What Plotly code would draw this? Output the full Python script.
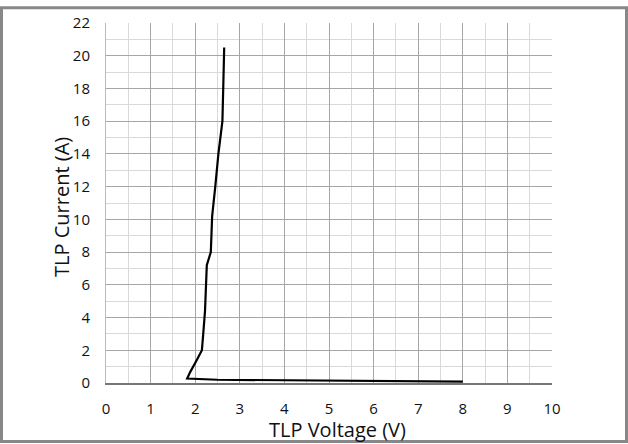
import plotly.graph_objects as go

# TLP I-V curve
voltage = [8.0, 6.0, 4.0, 2.5, 1.82, 1.89, 2.03, 2.15, 2.18, 2.22, 2.26, 2.32, 2.35,
           2.38, 2.41, 2.45, 2.52, 2.57, 2.61, 2.63, 2.65]
current = [0.08, 0.12, 0.16, 0.2, 0.27, 0.68, 1.38, 2.0, 3.0, 4.4, 7.2, 7.7, 8.0,
           10.2, 11.2, 12.0, 14.0, 15.2, 16.0, 18.2, 20.5]

x_ticks = list(range(0, 11))
y_ticks = list(range(0, 23, 2))

fig = go.Figure()
fig.add_trace(go.Scatter(x=voltage, y=current, mode="lines",
                         line=dict(color="black", width=2.2), showlegend=False))

font_family = "Open Sans, Noto Sans, sans-serif"
fig.update_layout(
    width=628, height=444,
    margin=dict(l=106, r=76, t=17, b=61),
    paper_bgcolor="white", plot_bgcolor="white",
    font=dict(family=font_family, color="#111", size=15),
    xaxis=dict(range=[0, 10], tickvals=x_ticks, ticks="", showgrid=True,
               gridcolor="#a6a6a6", gridwidth=1, zeroline=False,
               showline=True, linecolor="#777", linewidth=1.5, mirror=False,
               minor=dict(dtick=0.5, showgrid=True, gridcolor="#d9d9d9", gridwidth=1),
               tickfont=dict(size=15), ticklabelstandoff=11),
    yaxis=dict(range=[0, 22], tickvals=y_ticks, ticks="", showgrid=True,
               gridcolor="#a6a6a6", gridwidth=1, zeroline=False,
               showline=True, linecolor="#bbb", linewidth=1,
               minor=dict(dtick=1, showgrid=True, gridcolor="#d9d9d9", gridwidth=1),
               tickfont=dict(size=15), ticklabelstandoff=12),
    annotations=[
        dict(text="TLP Voltage (V)", xref="paper", yref="paper",
             x=(337.5 - 106) / 446, y=(383 - 430) / 366,
             xanchor="center", yanchor="middle", showarrow=False,
             font=dict(size=20, color="#111")),
        dict(text="TLP Current (A)", xref="paper", yref="paper",
             x=(62 - 106) / 446, y=(383 - 204) / 366, textangle=-90,
             xanchor="center", yanchor="middle", showarrow=False,
             font=dict(size=20, color="#111")),
    ],
    shapes=[dict(type="rect", xref="paper", yref="paper",
                 x0=(1.5 - 106) / 446, x1=(626.5 - 106) / 446,
                 y0=(383 - 442.5) / 366, y1=(383 - 1.5) / 366,
                 line=dict(color="#888", width=3), layer="above")],
)

fig.write_html("out.html", config={"displayModeBar": False},
               post_script="document.body.style.margin='0';document.body.style.overflow='hidden';")
